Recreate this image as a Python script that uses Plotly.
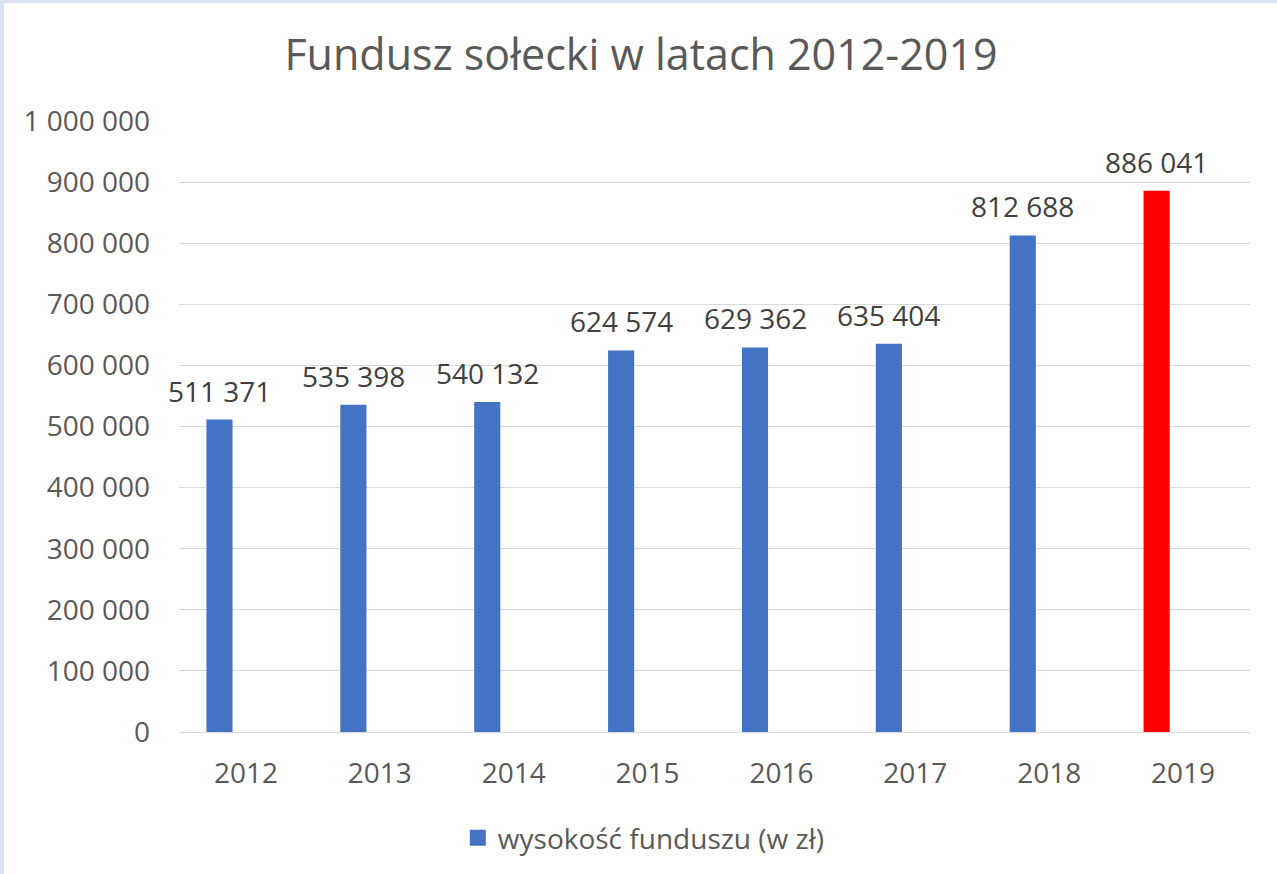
import plotly.graph_objects as go

years = ["2012", "2013", "2014", "2015", "2016", "2017", "2018", "2019"]
values = [511371, 535398, 540132, 624574, 629362, 635404, 812688, 886041]
bar_colors = ["#4472C4"] * 7 + ["#FF0000"]
series_name = "wysokość funduszu (w zł)"
title_text = "Fundusz sołecki w latach 2012-2019"
y_ticks = [0, 100000, 200000, 300000, 400000, 500000, 600000, 700000, 800000, 900000, 1000000]

labels = [f"{v:,}".replace(",", " ") for v in values]
ytick_text = [f"{v:,}".replace(",", " ") for v in y_ticks]

W_FIG, H_FIG = 1277, 874
ML, MR, MT, MB = 179, 27, 121, 141
PW = W_FIG - ML - MR
PH = H_FIG - MT - MB

FONT = "Open Sans"
BAR_WIDTH = 0.195
BAR_OFFSET = -0.295

fig = go.Figure()
fig.add_trace(go.Bar(
    x=years, y=values, name=series_name,
    marker=dict(color=bar_colors, line=dict(width=0)),
    width=BAR_WIDTH, offset=BAR_OFFSET,
    showlegend=False,
))
# legend proxy (blue square)
fig.add_trace(go.Scatter(
    x=[years[0]], y=[None], name=series_name, mode="markers",
    marker=dict(color="#4472C4", symbol="square", size=18), showlegend=True,
))

annotations = [
    dict(x=i + BAR_OFFSET + BAR_WIDTH / 2, y=v, xref="x", yref="y", text=t, showarrow=False,
         xanchor="center", yanchor="bottom", yshift=8,
         font=dict(family=FONT, size=28, color="#404040"))
    for i, (v, t) in enumerate(zip(values, labels))
]

def px2x(px):
    return (px - ML) / PW

def px2y(py):
    return (H_FIG - MB - py) / PH

shapes = [
    dict(type="rect", xref="paper", yref="paper", x0=px2x(-5), x1=px2x(4), y0=px2y(H_FIG + 5), y1=px2y(-5),
         fillcolor="#DAE3F3", line=dict(width=0), layer="above"),
    dict(type="rect", xref="paper", yref="paper", x0=px2x(-5), x1=px2x(W_FIG + 5), y0=px2y(3), y1=px2y(-5),
         fillcolor="#DAE3F3", line=dict(width=0), layer="above"),
]

fig.update_layout(
    width=W_FIG, height=H_FIG,
    margin=dict(l=ML, r=MR, t=MT, b=MB),
    paper_bgcolor="white", plot_bgcolor="white",
    font=dict(family=FONT, size=28, color="#595959"),
    title=dict(text=title_text, x=641 / W_FIG, xanchor="center", xref="container",
               y=1 - 55 / H_FIG, yanchor="middle", yref="container",
               font=dict(family=FONT, size=43, color="#595959")),
    xaxis=dict(type="category", showgrid=False, showline=True, linecolor="#D9D9D9", linewidth=1,
               ticks="", ticklabelstandoff=16, tickfont=dict(size=28, color="#595959"), fixedrange=True,
               range=[-0.5, len(years) - 0.5]),
    yaxis=dict(range=[0, 1000000], tickvals=y_ticks, ticktext=ytick_text, showgrid=True,
               gridcolor="#D9D9D9", gridwidth=1, zeroline=False, showline=False, ticks="",
               ticklabelstandoff=28, tickfont=dict(size=28, color="#595959"), fixedrange=True),
    barmode="overlay",
    showlegend=True,
    legend=dict(orientation="h", x=0.434, xanchor="center", y=px2y(838), yanchor="middle",
                font=dict(size=28, color="#595959"), bgcolor="rgba(0,0,0,0)"),
    shapes=shapes,
    annotations=annotations,
)

fig.write_html("out.html", config={"displayModeBar": False},
               post_script="document.body.style.margin='0';")
